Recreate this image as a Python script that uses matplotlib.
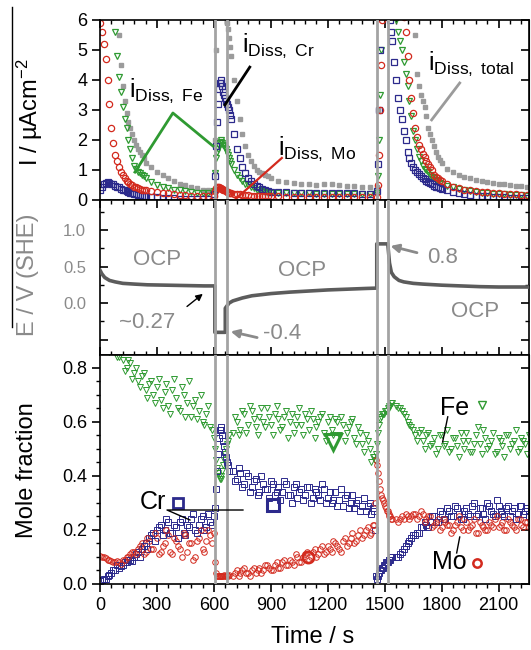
import numpy as np
import matplotlib
matplotlib.use("Agg")
import matplotlib.pyplot as plt
from matplotlib.ticker import MultipleLocator, FixedLocator, FuncFormatter
from matplotlib.lines import Line2D

plt.rcParams['font.family'] = ['Liberation Sans', 'DejaVu Sans']
plt.rcParams['mathtext.fontset'] = 'custom'
plt.rcParams['mathtext.rm'] = 'Liberation Sans'
plt.rcParams['mathtext.it'] = 'Liberation Sans:italic'

# ---------------- top panel: dissolution currents (uA cm^-2) ----------------
t_top = np.concatenate([np.arange(0, 250, 10), np.arange(270, 600, 30),
                        np.arange(600, 690, 5), np.arange(690, 900, 15),
                        np.arange(900, 1460, 40), np.arange(1460, 1540, 5),
                        np.arange(1540, 1800, 10), np.arange(1800, 2290, 30)])

fe_top = [8.0, 7.8, 7.5, 7.2, 6.9, 6.6, 6.3, 6.1, 5.6, 4.8, 4.1, 3.6, 3.1, 2.7, 2.4,
          2.0, 1.7, 1.4, 1.15, 1.05, 0.95, 0.9, 0.85, 0.8, 0.72,
          0.6, 0.5, 0.45, 0.4, 0.35, 0.32, 0.3, 0.28, 0.25, 0.25, 0.22,
          0.3, 0.9, 1.4, 1.6, 1.7, 1.8, 1.9, 1.95, 2.0, 1.9, 1.85, 1.8, 1.75, 1.7, 1.6, 1.5, 1.4, 1.3,
          1.2, 1.0, 0.85, 0.75, 0.65, 0.55, 0.5, 0.45, 0.4, 0.35, 0.32, 0.3, 0.28, 0.25,
          0.25, 0.24, 0.23, 0.22, 0.22, 0.22, 0.21, 0.21, 0.21, 0.2, 0.2, 0.2, 0.2, 0.2,
          0.25, 0.8, 2.0, 3.5, 5.0, 6.5, 7.5, 8.0, 8.5, 9.0, 9.0, 9.0, 9.0, 8.5, 8.0, 7.5,
          7.0, 6.5, 6.0, 5.6, 5.3, 5.0, 4.6, 4.2, 3.8, 3.3, 2.8, 2.3, 2.0, 1.7, 1.45,
          1.3, 1.15, 1.05, 1.0, 0.92, 0.85, 0.78, 0.72, 0.66, 0.62, 0.58,
          0.55, 0.48, 0.42, 0.37, 0.33, 0.3, 0.27, 0.25, 0.23, 0.21, 0.2, 0.19, 0.18, 0.17, 0.16, 0.15, 0.15]

mo_top = [5.9, 5.6, 5.2, 4.7, 4.0, 3.2, 2.4, 1.9, 1.5, 1.3, 1.1, 0.95, 0.85, 0.75, 0.65,
          0.6, 0.55, 0.5, 0.45, 0.42, 0.4, 0.38, 0.35, 0.33, 0.32,
          0.3, 0.28, 0.25, 0.22, 0.2, 0.18, 0.17, 0.15, 0.14, 0.13, 0.12,
          0.12, 0.3, 0.4, 0.45, 0.45, 0.42, 0.4, 0.4, 0.38, 0.36, 0.35, 0.33, 0.32, 0.3, 0.28, 0.26, 0.25, 0.24,
          0.23, 0.21, 0.2, 0.19, 0.18, 0.17, 0.16, 0.15, 0.15, 0.14, 0.14, 0.13, 0.13, 0.12,
          0.12, 0.12, 0.11, 0.11, 0.11, 0.1, 0.1, 0.1, 0.1, 0.1, 0.1, 0.1, 0.1, 0.1,
          0.1, 0.5, 1.5, 3.0, 4.5, 6.0, 7.0, 8.0, 9.0, 9.0, 9.0, 9.0, 9.0, 9.0, 9.0, 9.0,
          9.0, 8.5, 8.0, 7.5, 7.0, 6.6, 6.1, 5.6, 4.8, 4.0, 3.4, 2.9, 2.4, 2.1, 1.85,
          1.7, 1.55, 1.45, 1.3, 1.2, 1.1, 1.0, 0.85, 0.78, 0.72, 0.66,
          0.62, 0.52, 0.45, 0.4, 0.35, 0.32, 0.3, 0.28, 0.26, 0.24, 0.22, 0.21, 0.2, 0.19, 0.18, 0.17, 0.16]

cr_top = [0.35, 0.45, 0.52, 0.58, 0.6, 0.58, 0.55, 0.52, 0.48, 0.45, 0.42, 0.38, 0.35, 0.32, 0.3,
          0.27, 0.25, 0.23, 0.21, 0.2, 0.18, 0.16, 0.15, 0.14, 0.13,
          0.11, 0.1, 0.08, 0.07, 0.06, 0.05, 0.05, 0.04, 0.04, 0.04, 0.04,
          0.2, 0.8, 1.8, 2.6, 3.2, 3.7, 3.9, 4.0, 3.9, 3.8, 3.6, 3.5, 3.4, 3.3, 3.2, 3.1, 3.0, 2.85,
          2.7, 2.2, 1.7, 1.4, 1.1, 0.9, 0.75, 0.65, 0.55, 0.48, 0.42, 0.38, 0.34, 0.3,
          0.28, 0.27, 0.26, 0.25, 0.25, 0.24, 0.24, 0.23, 0.23, 0.22, 0.22, 0.22, 0.21, 0.21,
          0.3, 1.2, 3.0, 5.0, 6.5, 7.0, 7.5, 8.0, 8.0, 8.0, 8.0, 8.0, 8.0, 7.0, 6.0, 5.6,
          5.3, 4.6, 4.0, 3.4, 3.0, 2.7, 2.3, 2.0, 1.6, 1.4, 1.25, 1.1, 1.0, 0.95, 0.88,
          0.8, 0.75, 0.7, 0.65, 0.6, 0.56, 0.52, 0.48, 0.45, 0.42, 0.4,
          0.38, 0.32, 0.27, 0.23, 0.2, 0.17, 0.15, 0.13, 0.12, 0.11, 0.1, 0.09, 0.08, 0.08, 0.07, 0.07, 0.06]

tot_top = [12, 12, 12, 11, 11, 10, 9.5, 8.5, 7.5, 6.5, 5.5, 4.5, 3.8, 3.3, 2.9,
           2.6, 2.4, 2.2, 2.0, 1.85, 1.7, 1.6, 1.5, 1.4, 1.25,
           1.1, 0.95, 0.85, 0.75, 0.65, 0.55, 0.5, 0.45, 0.4, 0.35, 0.33,
           0.35, 2.0, 5.0, 7.0, 8.0, 8.0, 8.0, 8.0, 7.5, 7.0, 6.8, 6.5, 6.3, 6.1, 5.9, 5.7, 5.4, 5.1,
           4.8, 4.0, 3.3, 2.7, 2.2, 1.8, 1.5, 1.3, 1.15, 1.0, 0.95, 0.9, 0.85, 0.8,
           0.72, 0.65, 0.6, 0.58, 0.55, 0.52, 0.5, 0.52, 0.55, 0.5, 0.48, 0.46, 0.45, 0.44,
           0.45, 3.0, 7.0, 12, 15, 15, 15, 15, 15, 15, 15, 15, 15, 15, 15, 15,
           14, 13, 12, 12, 11, 10, 9.5, 9.0, 8.5, 8.0, 7.5, 7.0, 5.5, 4.2, 3.8,
           3.5, 3.3, 3.1, 2.8, 2.4, 2.2, 2.0, 1.8, 1.6, 1.45, 1.35,
           1.25, 1.05, 0.95, 0.85, 0.78, 0.72, 0.68, 0.63, 0.6, 0.57, 0.55, 0.52, 0.5, 0.48, 0.47, 0.45, 0.44]

# ---------------- middle panel: potential E / V(SHE) ----------------
t_E = [0, 10, 25, 50, 80, 120, 180, 250, 350, 450, 550, 605, 605, 660, 660, 680, 700, 750, 800,
       900, 1000, 1100, 1200, 1300, 1400, 1458, 1458, 1516, 1525, 1535, 1550, 1575, 1600, 1650,
       1700, 1800, 1900, 2000, 2100, 2200, 2260]
E = [0.45, 0.40, 0.35, 0.31, 0.29, 0.27, 0.26, 0.25, 0.245, 0.24, 0.235, 0.235, -0.40, -0.40, -0.07,
     0.0, 0.03, 0.07, 0.10, 0.13, 0.15, 0.165, 0.18, 0.19, 0.20, 0.205, 0.81, 0.81, 0.55, 0.42,
     0.36, 0.31, 0.29, 0.27, 0.26, 0.245, 0.235, 0.225, 0.22, 0.22, 0.22]

# ---------------- bottom panel: mole fractions ----------------
t_mf = np.concatenate([np.arange(0, 601, 20), np.arange(605, 681, 5), np.arange(700, 1441, 20),
                       np.arange(1445, 1541, 5), np.arange(1560, 2281, 20)])

fe_mf = [0.90, 0.89, 0.88, 0.87, 0.86, 0.84, 0.83, 0.80, 0.82, 0.78, 0.75, 0.77, 0.72, 0.74, 0.70, 0.73,
         0.68, 0.71, 0.66, 0.72, 0.69, 0.64, 0.70, 0.67, 0.62, 0.68, 0.64, 0.60, 0.63, 0.58, 0.54,
         0.50, 0.46, 0.43, 0.41, 0.40, 0.39, 0.39, 0.40, 0.42, 0.44, 0.46, 0.48, 0.50, 0.52, 0.53, 0.55,
         0.56, 0.60, 0.57, 0.63, 0.59, 0.64, 0.58, 0.62, 0.60, 0.65, 0.59, 0.63, 0.61, 0.58, 0.64,
         0.60, 0.56, 0.62, 0.59, 0.63, 0.57, 0.61, 0.58, 0.62, 0.56, 0.60, 0.57, 0.61, 0.55, 0.59,
         0.56, 0.60, 0.54, 0.58, 0.52, 0.55, 0.50, 0.47,
         0.47, 0.46, 0.48, 0.52, 0.56, 0.59, 0.61, 0.62, 0.63, 0.63, 0.63, 0.64, 0.64, 0.64, 0.65,
         0.65, 0.66, 0.66, 0.67, 0.67,
         0.66, 0.65, 0.63, 0.60, 0.58, 0.55, 0.56, 0.53, 0.55, 0.51, 0.54, 0.50, 0.55, 0.52, 0.49,
         0.54, 0.51, 0.56, 0.50, 0.53, 0.49, 0.55, 0.52, 0.57, 0.50, 0.53, 0.48, 0.54, 0.51, 0.55,
         0.50, 0.53, 0.49, 0.54, 0.52, 0.55, 0.51]

cr_mf = [0.01, 0.02, 0.03, 0.04, 0.05, 0.06, 0.07, 0.08, 0.09, 0.10, 0.12, 0.13, 0.15, 0.17, 0.19, 0.20,
         0.22, 0.20, 0.23, 0.19, 0.21, 0.23, 0.19, 0.22, 0.24, 0.20, 0.22, 0.25, 0.21, 0.23, 0.25,
         0.28, 0.35, 0.42, 0.48, 0.54, 0.57, 0.58, 0.57, 0.55, 0.53, 0.51, 0.49, 0.47, 0.45, 0.44, 0.42,
         0.42, 0.39, 0.41, 0.37, 0.40, 0.36, 0.39, 0.34, 0.37, 0.35, 0.38, 0.33, 0.36, 0.34, 0.37,
         0.33, 0.36, 0.32, 0.35, 0.33, 0.36, 0.32, 0.34, 0.31, 0.35, 0.32, 0.30, 0.34, 0.31, 0.29,
         0.33, 0.30, 0.28, 0.31, 0.29, 0.27, 0.30, 0.28,
         0.27, 0.20, 0.03, 0.02, 0.03, 0.04, 0.05, 0.05, 0.06, 0.06, 0.07, 0.07, 0.08, 0.08, 0.08,
         0.09, 0.09, 0.09, 0.10, 0.10,
         0.10, 0.11, 0.13, 0.15, 0.17, 0.18, 0.19, 0.21, 0.22, 0.23, 0.25, 0.23, 0.26, 0.24, 0.27,
         0.25, 0.28, 0.24, 0.27, 0.26, 0.29, 0.25, 0.28, 0.26, 0.30, 0.27, 0.25, 0.29, 0.26, 0.28,
         0.25, 0.28, 0.26, 0.29, 0.27, 0.25, 0.28]

mo_mf = [0.105, 0.10, 0.09, 0.085, 0.08, 0.08, 0.09, 0.10, 0.11, 0.12, 0.13, 0.15, 0.12, 0.16, 0.13, 0.17,
         0.12, 0.15, 0.18, 0.11, 0.16, 0.13, 0.19, 0.12, 0.15, 0.10, 0.17, 0.13, 0.16, 0.18, 0.19,
         0.08, 0.04, 0.03, 0.03, 0.03, 0.03, 0.03, 0.03, 0.03, 0.03, 0.035, 0.03, 0.03, 0.035, 0.03, 0.035,
         0.03, 0.05, 0.04, 0.06, 0.04, 0.05, 0.04, 0.06, 0.05, 0.07, 0.05, 0.07, 0.06, 0.08, 0.07,
         0.09, 0.07, 0.10, 0.08, 0.11, 0.09, 0.12, 0.10, 0.13, 0.11, 0.14, 0.12, 0.15, 0.13, 0.16,
         0.14, 0.17, 0.15, 0.18, 0.17, 0.20, 0.18, 0.22,
         0.22, 0.30, 0.46, 0.44, 0.41, 0.38, 0.35, 0.33, 0.32, 0.31, 0.30, 0.29, 0.28, 0.27, 0.27,
         0.26, 0.25, 0.25, 0.24, 0.24,
         0.24, 0.24, 0.24, 0.25, 0.25, 0.26, 0.25, 0.26, 0.24, 0.25, 0.22, 0.24, 0.21, 0.23, 0.22,
         0.20, 0.23, 0.21, 0.24, 0.20, 0.22, 0.19, 0.23, 0.21, 0.20, 0.22, 0.24, 0.21, 0.23, 0.20,
         0.23, 0.21, 0.24, 0.22, 0.23, 0.21, 0.23]

# second set of readings, between the first ones (the scatter band)
t_mf2 = np.concatenate([np.arange(10, 600, 20), np.arange(710, 1440, 20), np.arange(1570, 2280, 20)])

fe_mf2 = [0.88, 0.90, 0.86, 0.88, 0.84, 0.86, 0.79, 0.83, 0.76, 0.80, 0.73, 0.78, 0.69, 0.75, 0.67,
          0.76, 0.65, 0.74, 0.63, 0.76, 0.65, 0.73, 0.62, 0.75, 0.66, 0.61, 0.70, 0.59, 0.66, 0.57,
          0.62, 0.55, 0.64, 0.56, 0.66, 0.61, 0.55, 0.65, 0.58, 0.62, 0.55, 0.66, 0.57, 0.62, 0.54,
          0.63, 0.59, 0.65, 0.55, 0.61, 0.64, 0.54, 0.60, 0.63, 0.53, 0.62, 0.55, 0.60, 0.62, 0.53,
          0.58, 0.61, 0.52, 0.56, 0.49, 0.53, 0.45,
          0.65, 0.64, 0.62, 0.59, 0.57, 0.53, 0.57, 0.50, 0.56, 0.52, 0.48, 0.55, 0.51, 0.57, 0.50,
          0.54, 0.47, 0.53, 0.56, 0.49, 0.52, 0.58, 0.48, 0.54, 0.51, 0.56, 0.49, 0.53, 0.47, 0.55,
          0.52, 0.57, 0.50, 0.53, 0.48, 0.54]

cr_mf2 = [0.015, 0.02, 0.035, 0.05, 0.07, 0.065, 0.08, 0.09, 0.085, 0.11, 0.10, 0.14, 0.13, 0.18, 0.16,
          0.21, 0.18, 0.24, 0.19, 0.22, 0.17, 0.24, 0.18, 0.21, 0.26, 0.19, 0.24, 0.20, 0.26, 0.22,
          0.38, 0.43, 0.36, 0.41, 0.34, 0.38, 0.33, 0.40, 0.35, 0.32, 0.37, 0.34, 0.31, 0.38, 0.33,
          0.30, 0.37, 0.34, 0.31, 0.36, 0.30, 0.35, 0.33, 0.37, 0.30, 0.34, 0.31, 0.29, 0.35, 0.32,
          0.28, 0.33, 0.30, 0.27, 0.32, 0.29, 0.26,
          0.10, 0.12, 0.14, 0.16, 0.18, 0.19, 0.21, 0.23, 0.21, 0.25, 0.23, 0.27, 0.24, 0.28, 0.25,
          0.29, 0.26, 0.24, 0.28, 0.25, 0.30, 0.26, 0.28, 0.24, 0.29, 0.26, 0.31, 0.27, 0.25, 0.29,
          0.27, 0.24, 0.29, 0.26, 0.28, 0.27]

mo_mf2 = [0.10, 0.095, 0.09, 0.08, 0.085, 0.075, 0.09, 0.10, 0.12, 0.11, 0.14, 0.11, 0.17, 0.13, 0.19,
          0.11, 0.14, 0.20, 0.12, 0.17, 0.14, 0.10, 0.18, 0.15, 0.09, 0.16, 0.20, 0.12, 0.20, 0.15,
          0.04, 0.03, 0.05, 0.04, 0.03, 0.06, 0.05, 0.04, 0.07, 0.06, 0.05, 0.08, 0.06, 0.09, 0.07,
          0.08, 0.11, 0.08, 0.10, 0.12, 0.10, 0.13, 0.11, 0.14, 0.12, 0.13, 0.16, 0.14, 0.12, 0.17,
          0.15, 0.19, 0.16, 0.20, 0.18, 0.21, 0.19,
          0.23, 0.25, 0.26, 0.24, 0.26, 0.24, 0.27, 0.23, 0.25, 0.21, 0.23, 0.20, 0.24, 0.22, 0.19,
          0.22, 0.25, 0.20, 0.23, 0.21, 0.24, 0.19, 0.22, 0.20, 0.23, 0.21, 0.25, 0.22, 0.20, 0.24,
          0.22, 0.20, 0.24, 0.21, 0.23, 0.22]

# potential steps (s)
steps = [605, 667, 1458, 1518]

green = '#2f9a32'
red = '#d32a1e'
blue = '#2c2a8c'
grey_tot = '#9b9b9b'
grey_txt = '#8a8a8a'

fig = plt.figure(figsize=(5.31, 6.5), dpi=100)


def fy(px):
    return 1 - px / 650


L, W = 100 / 531, 429 / 531
ax1 = fig.add_axes([L, fy(200), W, 180 / 650])
ax2 = fig.add_axes([L, fy(355), W, 155 / 650])
ax3 = fig.add_axes([L, fy(584), W, 229 / 650])

for ax in (ax1, ax2, ax3):
    ax.set_xlim(0, 2260)
    ax.xaxis.set_major_locator(MultipleLocator(300))
    ax.xaxis.set_minor_locator(MultipleLocator(60))
    for s in ax.spines.values():
        s.set_linewidth(1.2)
    for x in steps:
        ax.axvline(x, color='#a3a3a3', lw=2, zorder=4)

# --- top
mk = dict(ls='none', ms=4.5, mew=0.9)
ax1.plot(t_top, tot_top, marker='s', color=grey_tot, mec=grey_tot, ms=3.5, ls='none', zorder=2)
ax1.plot(t_top, fe_top, marker='v', mfc='none', mec=green, zorder=2, **mk)
ax1.plot(t_top, cr_top, marker='s', mfc='none', mec=blue, zorder=2, **mk)
ax1.plot(t_top, mo_top, marker='o', mfc='none', mec=red, zorder=2, **mk)
ax1.set_ylim(0, 6)
ax1.set_yticks(range(7))
ax1.tick_params(axis='x', which='both', direction='in', top=True, bottom=False, labelbottom=False)
ax1.tick_params(axis='x', which='major', length=6, width=1.2)
ax1.tick_params(axis='x', which='minor', length=3, width=1)
ax1.tick_params(axis='y', direction='out', length=6, width=1.2, labelsize=13, pad=3)
sec1 = ax1.secondary_yaxis('right')
sec1.set_yticks(range(7))
sec1.tick_params(direction='in', length=6, width=1.2, labelright=False)

ax1.text(153, 3.43, r'$\mathrm{i}_{\mathrm{Diss,\ Fe}}$', fontsize=18, va='baseline')
ax1.plot([184, 384, 595], [0.93, 2.9, 1.8], color=green, lw=2, zorder=5)
ax1.text(747, 4.93, r'$\mathrm{i}_{\mathrm{Diss,\ Cr}}$', fontsize=18, va='baseline')
ax1.plot([789, 658], [4.43, 3.17], color='k', lw=2, zorder=5)
ax1.text(937, 1.5, r'$\mathrm{i}_{\mathrm{Diss,\ Mo}}$', fontsize=18, va='baseline')
ax1.plot([958, 700], [1.4, -0.05], color=red, lw=1.6, zorder=5, clip_on=False)
ax1.text(1726, 4.33, r'$\mathrm{i}_{\mathrm{Diss,\ total}}$', fontsize=18, va='baseline')
ax1.plot([1895, 1747], [3.9, 2.67], color=grey_tot, lw=2, zorder=5)

# --- middle
ax2.plot(t_E, E, color='#5c5c5c', lw=2.6, zorder=3)
ax2.set_ylim(-0.71, 1.41)
ax2.yaxis.set_major_locator(FixedLocator([-0.5, 0.0, 0.5, 1.0]))
ax2.yaxis.set_minor_locator(FixedLocator([-0.25, 0.25, 0.75, 1.25]))
ax2.yaxis.set_major_formatter(FuncFormatter(lambda v, p: '' if v < -0.1 else f'{v:.1f}'))
ax2.tick_params(axis='x', which='both', direction='in', top=True, bottom=True, labelbottom=False)
ax2.tick_params(axis='x', which='major', length=6, width=1.2)
ax2.tick_params(axis='x', which='minor', length=3, width=1)
ax2.tick_params(axis='y', which='both', direction='in', left=True, right=True,
                labelcolor=grey_txt, labelsize=12, pad=10)
ax2.tick_params(axis='y', which='major', length=6, width=1.2)
ax2.tick_params(axis='y', which='minor', length=3, width=1)

tkw = dict(color=grey_txt, fontsize=16, ha='center', va='center')
ax2.text(300, 0.59, 'OCP', **tkw)
ax2.text(1063, 0.45, 'OCP', **tkw)
ax2.text(1974, -0.12, 'OCP', **tkw)
ax2.text(247, -0.27, '~0.27', **tkw)
ax2.text(958, -0.41, '-0.4', **tkw)
ax2.text(1805, 0.62, '0.8', **tkw)
ax2.annotate('', xy=(553, 0.15), xytext=(447, -0.07),
             arrowprops=dict(arrowstyle='-|>', color='k', lw=1, mutation_scale=10))
ax2.annotate('', xy=(674, -0.38), xytext=(842, -0.48),
             arrowprops=dict(arrowstyle='-|>', color=grey_txt, lw=2, mutation_scale=12))
ax2.annotate('', xy=(1516, 0.79), xytext=(1684, 0.68),
             arrowprops=dict(arrowstyle='-|>', color=grey_txt, lw=2, mutation_scale=12))

# --- bottom
mk3 = dict(ls='none', ms=4, mew=0.7, zorder=2)
for tt, fe, cr, mo in ((t_mf, fe_mf, cr_mf, mo_mf), (t_mf2, fe_mf2, cr_mf2, mo_mf2)):
    ax3.plot(tt, fe, marker='v', mfc='none', mec=green, **mk3)
    ax3.plot(tt, cr, marker='s', mfc='none', mec=blue, **mk3)
    ax3.plot(tt, mo, marker='o', mfc='none', mec=red, **mk3)
ax3.set_ylim(0, 0.848)
ax3.yaxis.set_major_locator(MultipleLocator(0.2))
ax3.yaxis.set_minor_locator(MultipleLocator(0.05))
ax3.yaxis.set_major_formatter(FuncFormatter(lambda v, p: f'{v:.1f}'))
ax3.tick_params(axis='x', which='both', direction='out', top=False, bottom=True, labelsize=13)
ax3.tick_params(axis='x', which='major', length=6, width=1.2)
ax3.tick_params(axis='x', which='minor', length=3, width=1)
ax3.tick_params(axis='y', which='both', direction='out', labelsize=13, pad=3)
ax3.tick_params(axis='y', which='major', length=6, width=1.2)
ax3.tick_params(axis='y', which='minor', length=3, width=1)
sec3 = ax3.secondary_yaxis('right')
sec3.yaxis.set_major_locator(MultipleLocator(0.2))
sec3.tick_params(direction='in', length=6, width=1.2, labelright=False)

ax3.text(211, 0.304, 'Cr', fontsize=18, va='center')
ax3.plot([411], [0.30], marker='s', mfc='none', mec=blue, ms=7, mew=2, zorder=5)
ax3.plot([753, 353, 474], [0.274, 0.274, 0.237], color='k', lw=1, zorder=5)
ax3.plot([911], [0.293], marker='s', mfc='none', mec=blue, ms=9, mew=2.2, zorder=5)
ax3.plot([1226], [0.526], marker='v', mfc='none', mec=green, ms=12, mew=2.2, zorder=5)
ax3.plot([1095], [0.10], marker='o', mfc='none', mec=red, ms=8, mew=2, zorder=5)
ax3.text(1789, 0.652, 'Fe', fontsize=18, va='center')
ax3.plot([1832, 1805], [0.619, 0.526], color='k', lw=1, zorder=5)
ax3.plot([2010], [0.663], marker='v', mfc='none', mec=green, ms=6, mew=1, zorder=5)
ax3.text(1747, 0.081, 'Mo', fontsize=18, va='center')
ax3.plot([1895, 1879], [0.174, 0.115], color='k', lw=1, zorder=5)
ax3.plot([1984], [0.078], marker='o', mfc='none', mec=red, ms=6, mew=1.8, zorder=5)

# axis titles
fig.text(30 / 531, fy(112), r'I / µAcm$^{-2}$', rotation=90, fontsize=17, ha='center', va='center')
fig.text(28 / 531, fy(275), 'E / V (SHE)', rotation=90, fontsize=17, ha='center', va='center',
         color=grey_txt)
fig.text(27 / 531, fy(470), 'Mole fraction', rotation=90, fontsize=17, ha='center', va='center')
fig.text(313 / 531, fy(637), 'Time / s', fontsize=17, ha='center', va='center')
fig.add_artist(Line2D([12 / 531, 12 / 531], [fy(7), fy(327)], color='k', lw=1))

fig.savefig('out.png', dpi=100)
